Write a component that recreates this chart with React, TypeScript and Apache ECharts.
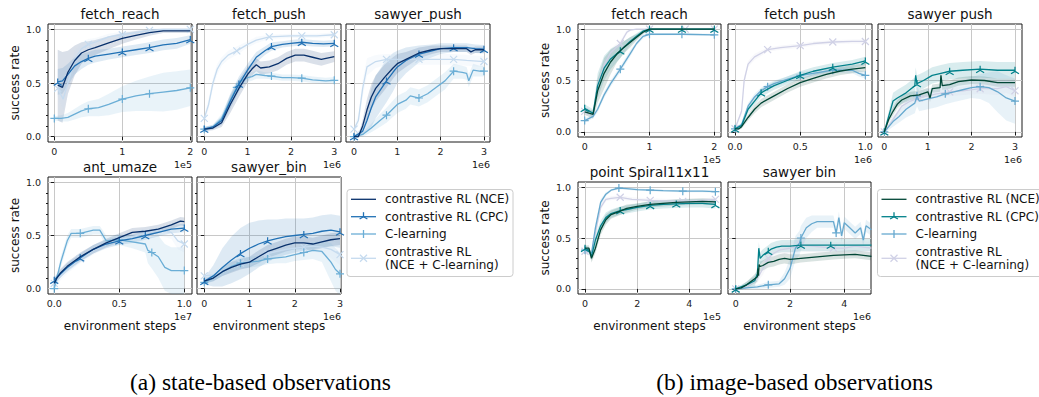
import { useEffect, useRef } from 'react';
import * as echarts from 'echarts';

// ---------- names, colours, ticks ----------
const SERIES_NAMES = ['contrastive RL (NCE)', 'contrastive RL (CPC)', 'C-learning', 'contrastive RL\n(NCE + C-learning)'];
const STATE_COLORS = ['#08306b', '#2171b5', '#6baed6', '#c6dbef'];
const IMAGE_COLORS = ['#014636', '#02818a', '#67a9cf', '#d0d1e6'];
const Y_TICKS = [0, 0.5, 1.0];
const Y_MINOR_TICKS = [0.1, 0.2, 0.3, 0.4, 0.6, 0.7, 0.8, 0.9];
const TICKS_0_2 = [0, 1, 2];
const TICKS_0_3 = [0, 1, 2, 3];
const TICKS_HALF = [0, 0.5, 1.0];
const TICKS_0_4 = [0, 2, 4];

// ---------- data: [step, success rate, spread] ----------
// (a) state-based : fetch_reach (x 1e5)
const S_FR_NCE = [[0.05,0.48,0.33],[0.12,0.46,0.33],[0.2,0.6,0.2],[0.3,0.71,0.14],[0.4,0.78,0.1],[0.5,0.81,0.08],[0.6,0.83,0.07],[0.8,0.875,0.06],[1.0,0.915,0.05],[1.2,0.945,0.04],[1.4,0.97,0.03],[1.6,0.985,0.02],[1.8,0.985,0.02],[2.0,0.985,0.02]];
const S_FR_CPC = [[0.05,0.51,0.12],[0.12,0.52,0.12],[0.2,0.58,0.1],[0.3,0.66,0.08],[0.4,0.7,0.07],[0.5,0.73,0.06],[0.6,0.75,0.06],[0.8,0.77,0.05],[1.0,0.79,0.05],[1.2,0.81,0.05],[1.4,0.83,0.05],[1.6,0.855,0.05],[1.8,0.87,0.05],[2.0,0.905,0.04]];
const S_FR_CL = [[0.0,0.17,0.02],[0.1,0.17,0.03],[0.2,0.18,0.04],[0.3,0.21,0.05],[0.4,0.24,0.06],[0.5,0.26,0.07],[0.65,0.27,0.08],[0.8,0.3,0.1],[1.0,0.35,0.12],[1.2,0.38,0.14],[1.4,0.4,0.16],[1.6,0.415,0.18],[1.8,0.43,0.18],[2.0,0.455,0.17]];
const S_FR_MIX = [[0.05,0.45,0.08],[0.13,0.35,0.1],[0.2,0.5,0.1],[0.3,0.72,0.08],[0.4,0.82,0.06],[0.5,0.86,0.05],[0.6,0.88,0.04],[0.8,0.93,0.03],[1.0,0.95,0.03],[1.2,0.97,0.02],[1.4,0.99,0.02],[1.6,1.0,0.01],[1.8,1.0,0.01],[2.0,1.0,0.01]];
// fetch_push (x 1e6)
const S_FP_NCE = [[0,0.07,0.02],[0.2,0.08,0.02],[0.4,0.13,0.04],[0.6,0.3,0.08],[0.8,0.45,0.08],[1.0,0.58,0.07],[1.1,0.63,0.06],[1.2,0.67,0.06],[1.3,0.64,0.06],[1.5,0.65,0.06],[1.7,0.68,0.06],[1.9,0.73,0.06],[2.1,0.76,0.06],[2.3,0.76,0.06],[2.5,0.74,0.06],[2.7,0.72,0.06],[3.0,0.745,0.05]];
const S_FP_CPC = [[0,0.07,0.02],[0.2,0.09,0.02],[0.4,0.15,0.04],[0.6,0.33,0.07],[0.8,0.49,0.07],[1.0,0.62,0.06],[1.2,0.74,0.05],[1.4,0.8,0.04],[1.55,0.84,0.04],[1.8,0.86,0.03],[2.0,0.87,0.03],[2.25,0.88,0.03],[2.5,0.87,0.03],[2.75,0.865,0.03],[3.0,0.87,0.03]];
const S_FP_CL = [[0,0.07,0.02],[0.2,0.09,0.02],[0.4,0.17,0.04],[0.6,0.34,0.05],[0.75,0.46,0.05],[0.85,0.52,0.04],[1.0,0.55,0.04],[1.1,0.56,0.04],[1.2,0.58,0.04],[1.4,0.57,0.03],[1.55,0.565,0.03],[1.8,0.55,0.03],[2.0,0.55,0.03],[2.25,0.545,0.03],[2.5,0.53,0.03],[2.8,0.52,0.03],[3.0,0.525,0.03]];
const S_FP_MIX = [[0,0.17,0.03],[0.1,0.3,0.05],[0.2,0.5,0.05],[0.3,0.63,0.05],[0.4,0.7,0.04],[0.55,0.76,0.04],[0.75,0.8,0.04],[1.0,0.86,0.03],[1.2,0.9,0.03],[1.5,0.93,0.02],[2.0,0.94,0.02],[2.25,0.94,0.02],[2.6,0.94,0.02],[3.0,0.95,0.02]];
// sawyer_push (x 1e6)
const S_SP_NCE = [[0,0.0,0.01],[0.1,0.0,0.01],[0.2,0.1,0.06],[0.3,0.25,0.1],[0.4,0.37,0.12],[0.5,0.45,0.12],[0.7,0.55,0.12],[0.9,0.64,0.1],[1.0,0.68,0.09],[1.2,0.72,0.07],[1.5,0.78,0.05],[1.8,0.81,0.04],[2.0,0.82,0.03],[2.3,0.82,0.03],[2.6,0.82,0.03],[2.7,0.79,0.03],[2.8,0.81,0.03],[3.0,0.81,0.03]];
const S_SP_CPC = [[0,0.0,0.01],[0.2,0.05,0.04],[0.3,0.15,0.1],[0.4,0.27,0.18],[0.5,0.37,0.2],[0.75,0.52,0.2],[0.9,0.6,0.18],[1.0,0.65,0.15],[1.2,0.71,0.12],[1.5,0.77,0.08],[1.8,0.8,0.06],[2.0,0.82,0.05],[2.3,0.83,0.04],[2.6,0.83,0.04],[2.8,0.82,0.04],[3.0,0.815,0.04]];
const S_SP_CL = [[0,0.0,0.01],[0.2,0.02,0.02],[0.4,0.08,0.04],[0.6,0.15,0.06],[0.75,0.2,0.07],[1.0,0.3,0.08],[1.2,0.34,0.08],[1.3,0.38,0.08],[1.5,0.36,0.08],[1.7,0.4,0.08],[1.9,0.46,0.08],[2.1,0.52,0.08],[2.3,0.61,0.07],[2.5,0.6,0.06],[2.6,0.59,0.06],[2.65,0.52,0.06],[2.75,0.62,0.06],[2.9,0.61,0.05],[3.0,0.61,0.05]];
const S_SP_MIX = [[0,0.07,0.03],[0.1,0.15,0.05],[0.2,0.45,0.08],[0.3,0.65,0.08],[0.5,0.7,0.06],[0.75,0.72,0.05],[1.0,0.72,0.05],[1.5,0.72,0.05],[2.0,0.72,0.05],[2.3,0.72,0.05],[2.6,0.71,0.05],[3.0,0.7,0.05]];
// ant_umaze (x 1e7)
const S_AU_NCE = [[0,0.05,0.03],[0.02,0.1,0.04],[0.05,0.15,0.04],[0.1,0.21,0.04],[0.2,0.3,0.04],[0.3,0.37,0.04],[0.4,0.43,0.04],[0.5,0.48,0.04],[0.6,0.53,0.04],[0.7,0.54,0.04],[0.8,0.56,0.04],[0.9,0.6,0.04],[0.97,0.635,0.04],[1.0,0.63,0.04]];
const S_AU_CPC = [[0,0.08,0.03],[0.03,0.12,0.03],[0.1,0.2,0.04],[0.2,0.29,0.04],[0.3,0.37,0.04],[0.4,0.42,0.04],[0.5,0.45,0.04],[0.6,0.47,0.04],[0.7,0.5,0.04],[0.8,0.53,0.04],[0.9,0.56,0.04],[1.0,0.57,0.04]];
const S_AU_CL = [[0,0.0,0.02],[0.05,0.25,0.05],[0.1,0.45,0.05],[0.13,0.52,0.04],[0.2,0.52,0.04],[0.3,0.55,0.04],[0.35,0.55,0.04],[0.4,0.45,0.05],[0.5,0.46,0.05],[0.6,0.44,0.06],[0.7,0.42,0.08],[0.72,0.36,0.12],[0.75,0.34,0.15],[0.8,0.3,0.2],[0.85,0.2,0.22],[0.9,0.17,0.22],[1.0,0.17,0.22]];
const S_AU_MIX = [[0,0.05,0.03],[0.1,0.18,0.04],[0.2,0.28,0.04],[0.3,0.36,0.04],[0.4,0.42,0.04],[0.5,0.46,0.04],[0.6,0.49,0.04],[0.7,0.52,0.05],[0.8,0.55,0.05],[0.9,0.53,0.06],[0.95,0.45,0.08],[1.0,0.42,0.08]];
// sawyer_bin (x 1e6)
const S_SB_NCE = [[0,0.07,0.02],[0.2,0.1,0.03],[0.4,0.16,0.04],[0.6,0.2,0.05],[0.8,0.23,0.05],[1.0,0.25,0.05],[1.2,0.3,0.06],[1.4,0.35,0.06],[1.6,0.38,0.06],[1.8,0.41,0.06],[2.0,0.43,0.06],[2.2,0.43,0.06],[2.4,0.42,0.06],[2.6,0.44,0.06],[2.8,0.46,0.06],[3.0,0.47,0.06]];
const S_SB_CPC = [[0,0.07,0.03],[0.2,0.12,0.1],[0.4,0.2,0.18],[0.6,0.27,0.22],[0.8,0.33,0.24],[1.0,0.38,0.24],[1.2,0.42,0.22],[1.4,0.45,0.2],[1.6,0.47,0.18],[1.8,0.49,0.17],[2.0,0.5,0.16],[2.2,0.51,0.15],[2.4,0.52,0.15],[2.6,0.54,0.15],[2.8,0.55,0.15],[3.0,0.535,0.15]];
const S_SB_CL = [[0,0.06,0.02],[0.2,0.1,0.03],[0.4,0.16,0.04],[0.6,0.21,0.05],[0.8,0.24,0.05],[1.0,0.25,0.05],[1.2,0.26,0.05],[1.4,0.28,0.05],[1.6,0.29,0.05],[1.8,0.3,0.06],[2.0,0.32,0.06],[2.2,0.34,0.07],[2.4,0.36,0.08],[2.6,0.35,0.1],[2.7,0.3,0.14],[2.8,0.25,0.18],[2.9,0.18,0.2],[3.0,0.14,0.2]];
const S_SB_MIX = [[0,0.12,0.03],[0.2,0.13,0.03],[0.4,0.17,0.04],[0.6,0.21,0.04],[0.8,0.24,0.05],[1.0,0.26,0.05],[1.2,0.3,0.05],[1.4,0.33,0.05],[1.6,0.35,0.05],[1.8,0.37,0.05],[2.0,0.38,0.05],[2.2,0.39,0.05],[2.4,0.4,0.05],[2.6,0.39,0.06],[2.8,0.37,0.08],[3.0,0.32,0.1]];

// (b) image-based : fetch reach (x 1e5)
const I_FR_NCE = [[0,0.195,0.03],[0.13,0.17,0.04],[0.2,0.4,0.12],[0.3,0.57,0.15],[0.4,0.68,0.12],[0.5,0.76,0.08],[0.6,0.82,0.06],[0.7,0.87,0.05],[0.8,0.92,0.03],[0.9,0.97,0.02],[1.0,1.0,0.01],[1.5,1.0,0.0],[2.0,1.0,0.0]];
const I_FR_CPC = [[0,0.23,0.04],[0.13,0.18,0.04],[0.2,0.45,0.12],[0.3,0.62,0.12],[0.4,0.71,0.1],[0.55,0.79,0.07],[0.7,0.88,0.04],[0.8,0.93,0.03],[0.9,0.98,0.02],[1.0,1.0,0.01],[1.5,1.0,0.0],[2.0,1.0,0.0]];
const I_FR_CL = [[0,0.11,0.02],[0.13,0.15,0.02],[0.2,0.22,0.03],[0.3,0.36,0.03],[0.4,0.47,0.03],[0.55,0.61,0.03],[0.7,0.76,0.03],[0.8,0.86,0.02],[0.9,0.93,0.02],[1.0,0.95,0.01],[1.5,0.95,0.01],[2.0,0.945,0.01]];
const I_FR_MIX = [[0,0.2,0.03],[0.13,0.17,0.03],[0.2,0.45,0.05],[0.3,0.65,0.05],[0.4,0.77,0.04],[0.55,0.86,0.03],[0.65,0.97,0.02],[0.7,0.99,0.01],[0.8,1.0,0.0],[1.0,1.0,0.0],[1.55,1.0,0.0],[2.0,1.0,0.0]];
// fetch push (x 1e6)
const I_FP_NCE = [[0,0.03,0.01],[0.03,0.03,0.01],[0.05,0.05,0.02],[0.1,0.14,0.03],[0.15,0.22,0.04],[0.2,0.28,0.04],[0.3,0.35,0.04],[0.4,0.42,0.04],[0.5,0.48,0.04],[0.6,0.52,0.04],[0.7,0.56,0.04],[0.8,0.59,0.04],[0.9,0.61,0.04],[1.0,0.625,0.04]];
const I_FP_CPC = [[0,0.03,0.01],[0.05,0.06,0.02],[0.1,0.22,0.04],[0.15,0.3,0.04],[0.2,0.38,0.04],[0.3,0.45,0.04],[0.4,0.5,0.04],[0.5,0.55,0.04],[0.6,0.59,0.04],[0.75,0.63,0.04],[0.9,0.66,0.04],[1.0,0.69,0.04]];
const I_FP_CL = [[0,0.03,0.01],[0.05,0.07,0.02],[0.1,0.25,0.03],[0.15,0.34,0.03],[0.2,0.4,0.03],[0.25,0.44,0.03],[0.3,0.47,0.03],[0.4,0.51,0.03],[0.5,0.55,0.03],[0.6,0.57,0.03],[0.75,0.6,0.03],[0.9,0.6,0.03],[0.95,0.57,0.03],[1.0,0.55,0.03]];
const I_FP_MIX = [[0,0.03,0.01],[0.05,0.2,0.03],[0.07,0.5,0.04],[0.1,0.66,0.03],[0.15,0.73,0.03],[0.25,0.8,0.02],[0.35,0.82,0.02],[0.5,0.84,0.02],[0.6,0.86,0.02],[0.75,0.875,0.02],[0.9,0.88,0.02],[1.0,0.88,0.02]];
// sawyer push (x 1e6)
const I_SP_NCE = [[0,0.0,0.01],[0.1,0.12,0.03],[0.2,0.2,0.04],[0.3,0.27,0.04],[0.4,0.31,0.04],[0.6,0.35,0.04],[0.8,0.36,0.04],[1.0,0.39,0.04],[1.05,0.33,0.04],[1.1,0.42,0.04],[1.28,0.43,0.04],[1.3,0.55,0.04],[1.33,0.45,0.04],[1.5,0.46,0.04],[1.7,0.49,0.04],[2.0,0.505,0.04],[2.3,0.5,0.04],[2.6,0.48,0.04],[3.0,0.48,0.04]];
const I_SP_CPC = [[0,0.0,0.01],[0.1,0.15,0.05],[0.2,0.3,0.08],[0.3,0.33,0.08],[0.5,0.38,0.08],[0.7,0.45,0.08],[0.72,0.55,0.08],[0.75,0.47,0.08],[0.9,0.5,0.08],[1.1,0.55,0.08],[1.3,0.57,0.08],[1.5,0.59,0.08],[1.8,0.6,0.08],[2.2,0.61,0.08],[2.6,0.6,0.08],[3.0,0.6,0.08]];
const I_SP_CL = [[0,0.0,0.01],[0.2,0.1,0.05],[0.34,0.15,0.06],[0.5,0.22,0.08],[0.7,0.28,0.1],[0.75,0.35,0.1],[0.8,0.3,0.1],[1.0,0.32,0.1],[1.2,0.34,0.1],[1.4,0.37,0.1],[1.6,0.39,0.1],[1.8,0.41,0.1],[2.0,0.43,0.1],[2.2,0.44,0.12],[2.4,0.43,0.15],[2.6,0.39,0.2],[2.8,0.33,0.22],[3.0,0.3,0.22]];
const I_SP_MIX = [[0,0.0,0.01],[0.2,0.12,0.03],[0.4,0.25,0.04],[0.6,0.3,0.04],[0.8,0.33,0.04],[1.0,0.35,0.04],[1.2,0.37,0.04],[1.5,0.39,0.04],[1.8,0.4,0.04],[2.2,0.42,0.05],[2.6,0.42,0.06],[2.8,0.44,0.06],[3.0,0.4,0.06]];
// point Spiral11x11 (x 1e5)
const I_PS_NCE = [[0,0.4,0.03],[0.15,0.4,0.03],[0.25,0.3,0.04],[0.4,0.4,0.05],[0.6,0.58,0.05],[0.8,0.68,0.05],[1.0,0.73,0.04],[1.3,0.76,0.04],[1.6,0.79,0.04],[2.0,0.81,0.03],[2.5,0.83,0.03],[3.0,0.84,0.03],[3.5,0.85,0.03],[4.0,0.855,0.03],[4.5,0.86,0.03],[5.0,0.855,0.03]];
const I_PS_CPC = [[0,0.4,0.03],[0.15,0.38,0.03],[0.25,0.32,0.04],[0.4,0.48,0.05],[0.6,0.62,0.05],[0.8,0.7,0.05],[1.0,0.74,0.04],[1.35,0.77,0.04],[1.6,0.78,0.04],[2.0,0.8,0.04],[2.5,0.82,0.04],[3.0,0.83,0.04],[3.5,0.835,0.04],[4.0,0.84,0.04],[4.5,0.84,0.04],[5.0,0.83,0.04]];
const I_PS_CL = [[0,0.38,0.02],[0.15,0.37,0.02],[0.25,0.35,0.03],[0.4,0.6,0.04],[0.6,0.85,0.03],[0.8,0.93,0.02],[1.0,0.97,0.01],[1.3,0.99,0.01],[1.6,0.985,0.01],[2.0,0.975,0.01],[2.5,0.97,0.01],[3.0,0.965,0.01],[3.75,0.96,0.01],[4.5,0.96,0.01],[5.0,0.955,0.01]];
const I_PS_MIX = [[0,0.37,0.03],[0.15,0.36,0.03],[0.25,0.33,0.03],[0.4,0.55,0.04],[0.6,0.8,0.03],[0.8,0.88,0.02],[1.0,0.89,0.02],[1.35,0.9,0.02],[1.8,0.88,0.02],[2.5,0.87,0.02],[3.0,0.865,0.02],[3.75,0.86,0.02],[4.5,0.87,0.02],[5.0,0.88,0.02]];
// sawyer bin (x 1e6)
const I_SB_NCE = [[0,0.0,0.01],[0.2,0.01,0.02],[0.4,0.04,0.03],[0.6,0.08,0.04],[0.8,0.12,0.05],[0.82,0.2,0.05],[0.84,0.13,0.05],[0.86,0.24,0.05],[0.9,0.22,0.05],[1.0,0.23,0.05],[1.2,0.26,0.05],[1.4,0.27,0.05],[1.6,0.29,0.05],[1.8,0.3,0.05],[2.0,0.29,0.05],[2.4,0.3,0.04],[2.8,0.31,0.04],[3.2,0.32,0.04],[3.6,0.33,0.04],[4.0,0.335,0.04],[4.4,0.34,0.04],[5.0,0.32,0.04]];
const I_SB_CPC = [[0,0.0,0.01],[0.4,0.04,0.03],[0.7,0.08,0.05],[0.8,0.15,0.06],[0.85,0.4,0.06],[0.9,0.3,0.06],[1.0,0.33,0.06],[1.2,0.37,0.06],[1.3,0.39,0.06],[1.5,0.41,0.06],[1.7,0.42,0.06],[2.0,0.42,0.06],[2.4,0.43,0.06],[3.0,0.43,0.06],[3.5,0.43,0.06],[4.0,0.43,0.06],[5.0,0.43,0.06]];
const I_SB_CL = [[0,0.0,0.01],[0.4,0.01,0.01],[0.8,0.02,0.02],[1.2,0.04,0.03],[1.6,0.05,0.03],[1.8,0.1,0.06],[2.0,0.2,0.1],[2.2,0.4,0.12],[2.35,0.45,0.12],[2.4,0.5,0.12],[2.6,0.6,0.1],[2.8,0.64,0.08],[3.0,0.66,0.06],[3.2,0.66,0.06],[3.6,0.66,0.06],[3.7,0.55,0.06],[3.8,0.7,0.06],[3.9,0.52,0.06],[4.0,0.65,0.06],[4.2,0.6,0.06],[4.4,0.55,0.06],[4.6,0.6,0.06],[4.7,0.48,0.06],[4.8,0.62,0.06],[5.0,0.58,0.06]];
const I_SB_MIX = [[0,0.0,0.01],[0.4,0.02,0.02],[0.8,0.1,0.04],[1.0,0.2,0.06],[1.2,0.3,0.06],[1.4,0.35,0.06],[1.6,0.38,0.06],[2.0,0.4,0.06],[2.4,0.43,0.06],[2.8,0.42,0.06],[3.2,0.41,0.06],[3.6,0.4,0.06],[4.0,0.4,0.06],[4.4,0.42,0.06],[5.0,0.4,0.06]];

// ---------- layout ----------
type Panel = { title: string; box: number[]; x: number[]; ticks: number[]; dec: number; yLabel: boolean; xName: boolean; offset: string; data: number[][][]; colors: string[] };
const PANELS: Panel[] = [
  { title: 'fetch_reach', box: [48, 24, 144, 118], x: [-0.093, 2.025], ticks: TICKS_0_2, dec: 0, yLabel: true, xName: false, offset: '1e5', data: [S_FR_NCE, S_FR_CPC, S_FR_CL, S_FR_MIX], colors: STATE_COLORS },
  { title: 'fetch_push', box: [197, 24, 144, 118], x: [-0.168, 3.155], ticks: TICKS_0_3, dec: 0, yLabel: false, xName: false, offset: '1e6', data: [S_FP_NCE, S_FP_CPC, S_FP_CL, S_FP_MIX], colors: STATE_COLORS },
  { title: 'sawyer_push', box: [346, 24, 144, 118], x: [-0.185, 3.14], ticks: TICKS_0_3, dec: 0, yLabel: false, xName: false, offset: '1e6', data: [S_SP_NCE, S_SP_CPC, S_SP_CL, S_SP_MIX], colors: STATE_COLORS },
  { title: 'ant_umaze', box: [48, 177, 144, 117], x: [-0.048, 1.059], ticks: TICKS_HALF, dec: 1, yLabel: true, xName: true, offset: '1e7', data: [S_AU_NCE, S_AU_CPC, S_AU_CL, S_AU_MIX], colors: STATE_COLORS },
  { title: 'sawyer_bin', box: [197, 177, 144, 117], x: [-0.161, 3.022], ticks: TICKS_0_3, dec: 0, yLabel: false, xName: true, offset: '1e6', data: [S_SB_NCE, S_SB_CPC, S_SB_CL, S_SB_MIX], colors: STATE_COLORS },
  { title: 'fetch reach', box: [578, 24, 143, 113], x: [-0.103, 2.103], ticks: TICKS_0_2, dec: 0, yLabel: true, xName: false, offset: '1e5', data: [I_FR_NCE, I_FR_CPC, I_FR_CL, I_FR_MIX], colors: IMAGE_COLORS },
  { title: 'fetch push', box: [728, 24, 144, 113], x: [-0.054, 1.051], ticks: TICKS_HALF, dec: 1, yLabel: false, xName: false, offset: '1e6', data: [I_FP_NCE, I_FP_CPC, I_FP_CL, I_FP_MIX], colors: IMAGE_COLORS },
  { title: 'sawyer push', box: [878, 24, 144, 113], x: [-0.145, 3.161], ticks: TICKS_0_3, dec: 0, yLabel: false, xName: false, offset: '1e6', data: [I_SP_NCE, I_SP_CPC, I_SP_CL, I_SP_MIX], colors: IMAGE_COLORS },
  { title: 'point Spiral11x11', box: [578, 182, 143, 112], x: [-0.268, 5.215], ticks: TICKS_0_4, dec: 0, yLabel: true, xName: true, offset: '1e5', data: [I_PS_NCE, I_PS_CPC, I_PS_CL, I_PS_MIX], colors: IMAGE_COLORS },
  { title: 'sawyer bin', box: [728, 182, 143, 112], x: [-0.284, 4.983], ticks: TICKS_0_4, dec: 0, yLabel: false, xName: true, offset: '1e6', data: [I_SB_NCE, I_SB_CPC, I_SB_CL, I_SB_MIX], colors: IMAGE_COLORS },
];

const SYMBOLS = [
  'none',
  'path://M0,0L0,-8M0,0L-6.93,4M0,0L6.93,4',
  'path://M-5,0L5,0M0,-5L0,5',
  'path://M-5,-5L5,5M-5,5L5,-5',
];
const SYMBOL_SIZES = [0, 8, 8, 7];
const FONT = '"DejaVu Sans", sans-serif';

function rgba(hex: string, a: number) {
  const n = parseInt(hex.slice(1), 16);
  return `rgba(${(n >> 16) & 255},${(n >> 8) & 255},${n & 255},${a})`;
}

function text(x: number, y: number, t: string, font: string, align = 'center', rotation = 0, fill = '#111') {
  return { type: 'text', x, y, rotation, silent: true, z: 100, style: { text: t, font, fill, textAlign: align, textVerticalAlign: 'middle' } };
}

function legend(boxX: number, boxW: number, colors: string[]) {
  const els: any[] = [];
  els.push({ type: 'rect', silent: true, z: 90, shape: { x: boxX, y: 189.5, width: boxW, height: 87, r: 3 }, style: { fill: 'rgba(255,255,255,0.85)', stroke: '#cccccc', lineWidth: 1 } });
  const ys = [199.3, 216.7, 234, 258.3];
  const lx0 = boxX + 4, lx1 = boxX + 29, cx = boxX + 16.5, tx = boxX + 38;
  ys.forEach((y, k) => {
    const c = colors[k];
    const ls = { stroke: c, lineWidth: 1.3 };
    els.push({ type: 'line', silent: true, z: 95, shape: { x1: lx0, y1: y, x2: lx1, y2: y }, style: ls });
    if (k === 1) {
      els.push({ type: 'line', silent: true, z: 95, shape: { x1: cx, y1: y, x2: cx, y2: y - 4.5 }, style: ls });
      els.push({ type: 'line', silent: true, z: 95, shape: { x1: cx, y1: y, x2: cx - 3.9, y2: y + 2.3 }, style: ls });
      els.push({ type: 'line', silent: true, z: 95, shape: { x1: cx, y1: y, x2: cx + 3.9, y2: y + 2.3 }, style: ls });
    } else if (k === 2) {
      els.push({ type: 'line', silent: true, z: 95, shape: { x1: cx, y1: y - 4, x2: cx, y2: y + 4 }, style: ls });
    } else if (k === 3) {
      els.push({ type: 'line', silent: true, z: 95, shape: { x1: cx - 3.5, y1: y - 3.5, x2: cx + 3.5, y2: y + 3.5 }, style: ls });
      els.push({ type: 'line', silent: true, z: 95, shape: { x1: cx - 3.5, y1: y + 3.5, x2: cx + 3.5, y2: y - 3.5 }, style: ls });
    }
    els.push({ type: 'text', silent: true, z: 96, x: tx, y, style: { text: SERIES_NAMES[k], font: `12px ${FONT}`, fill: '#111', textAlign: 'left', textVerticalAlign: 'middle', lineHeight: 13.5 } });
  });
  return els;
}

function buildOption() {
  const grid: any[] = [], xAxis: any[] = [], yAxis: any[] = [], series: any[] = [], graphic: any[] = [];
  const tickLine = { color: '#1a1a1a', width: 1 };
  const split = { show: true, lineStyle: { color: '#c8c8c8', width: 1 } };
  PANELS.forEach((p, i) => {
    const [l, t, w, h] = p.box;
    grid.push({ left: l, top: t, width: w, height: h, show: true, borderColor: '#1a1a1a', borderWidth: 1, backgroundColor: 'transparent' });
    xAxis.push({
      type: 'value', gridIndex: i, min: p.x[0], max: p.x[1], splitNumber: 3,
      axisLine: { show: false },
      axisTick: { show: true, length: 3.5, lineStyle: tickLine, customValues: p.ticks },
      axisLabel: { show: true, customValues: p.ticks, formatter: (v: number) => v.toFixed(p.dec), fontSize: 9.5, fontFamily: FONT, color: '#222', margin: 4 },
      splitLine: split,
    });
    yAxis.push({
      type: 'value', gridIndex: i, min: -0.05, max: 1.05, position: 'left', splitNumber: 2,
      axisLine: { show: false },
      axisTick: { show: true, length: 3.5, lineStyle: tickLine, customValues: Y_TICKS },
      axisLabel: { show: p.yLabel, customValues: Y_TICKS, formatter: (v: number) => v.toFixed(1), fontSize: 9.5, fontFamily: FONT, color: '#222', margin: 7 },
      splitLine: split,
    });
    yAxis.push({
      type: 'value', gridIndex: i, min: -0.05, max: 1.05, position: 'left',
      axisLine: { show: false },
      axisTick: { show: true, length: 2, lineStyle: tickLine, customValues: Y_MINOR_TICKS },
      axisLabel: { show: false },
      splitLine: { show: false },
    });

    // shaded spread bands
    p.data.forEach((pts, k) => {
      const col = rgba(p.colors[k], 0.15);
      series.push({
        type: 'custom', xAxisIndex: i, yAxisIndex: 2 * i, clip: true, silent: true, z: 1,
        data: pts.map((d) => [d[0], d[1]]), encode: { x: 0, y: 1 },
        renderItem: (params: any, api: any) => {
          if (params.dataIndex !== 0) return { type: 'group', children: [] };
          const up = pts.map((d) => api.coord([d[0], d[1] + d[2]]));
          const dn = pts.map((d) => api.coord([d[0], d[1] - d[2]])).reverse();
          return { type: 'polygon', shape: { points: up.concat(dn) }, style: { fill: col, stroke: 'none' } };
        },
      });
    });

    // mean curves (mix drawn first so NCE ends on top)
    [3, 2, 1, 0].forEach((k) => {
      const pts = p.data[k];
      const c = p.colors[k];
      const xmax = pts[pts.length - 1][0];
      const marks = new Set<number>();
      if (k > 0) {
        for (let j = 0; j <= 4; j++) {
          const target = (xmax * j) / 4;
          let best = 0;
          pts.forEach((d, idx) => { if (Math.abs(d[0] - target) < Math.abs(pts[best][0] - target)) best = idx; });
          marks.add(best);
        }
      }
      series.push({
        type: 'line', name: SERIES_NAMES[k], xAxisIndex: i, yAxisIndex: 2 * i, z: 3 + (3 - k), silent: true, clip: true,
        symbol: SYMBOLS[k], symbolSize: SYMBOL_SIZES[k], symbolKeepAspect: true, showSymbol: k > 0, showAllSymbol: true,
        lineStyle: { color: c, width: 1.3 },
        itemStyle: { color: c, borderColor: c, borderWidth: 1.2 },
        emphasis: { disabled: true },
        data: pts.map((d, idx) => (marks.has(idx) ? { value: [d[0], d[1]] } : { value: [d[0], d[1]], symbol: 'none' })),
      });
    });

    graphic.push(text(l + w / 2, t - 10.5, p.title, `13.5px ${FONT}`));
    graphic.push(text(l + w, t + h + 22, p.offset, `9.5px ${FONT}`, 'right'));
    if (p.yLabel) graphic.push(text(l - 33, t + h / 2, 'success rate', `12px ${FONT}`, 'center', Math.PI / 2));
    if (p.xName) graphic.push(text(l + w / 2, t + h + 32, 'environment steps', `12px ${FONT}`));
  });

  graphic.push(...legend(347, 166, STATE_COLORS));
  graphic.push(...legend(877.5, 170, IMAGE_COLORS));
  graphic.push(text(260.5, 382, '(a) state-based observations', '23.5px "Liberation Serif", serif', 'center', 0, '#000'));
  graphic.push(text(794.5, 382, '(b) image-based observations', '23.5px "Liberation Serif", serif', 'center', 0, '#000'));

  return { animation: false, backgroundColor: '#ffffff', grid, xAxis, yAxis, series, graphic };
}

export default function App() {
  const ref = useRef<HTMLDivElement>(null);
  useEffect(() => {
    if (!ref.current) return;
    const chart = echarts.init(ref.current, undefined, { renderer: 'svg', width: 1039, height: 397 });
    chart.setOption(buildOption() as any);
    return () => chart.dispose();
  }, []);
  return <div ref={ref} style={{ position: 'fixed', left: 0, top: 0, width: 1039, height: 397, background: '#fff' }} />;
}
